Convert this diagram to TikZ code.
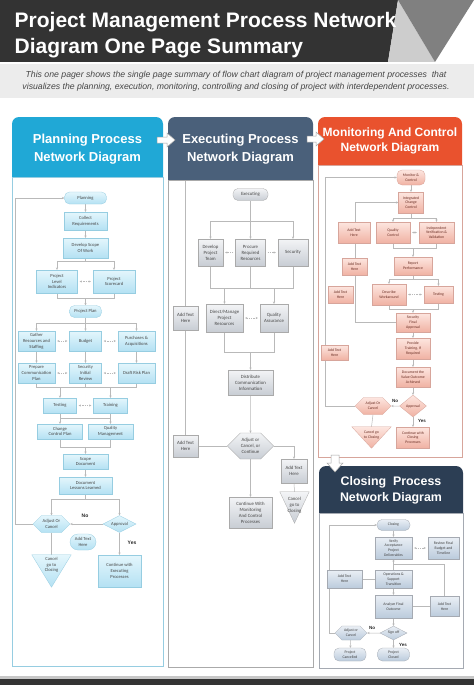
\documentclass[tikz,border=0pt]{standalone}
\usepackage{fontspec}
\setmainfont{Liberation Sans}
\newfontfamily\nodefont{Carlito}
\usetikzlibrary{arrows.meta,shapes.geometric,shapes.symbols,backgrounds}
\definecolor{darkbar}{RGB}{51,51,51}
\definecolor{triA}{RGB}{205,205,205}
\definecolor{triB}{RGB}{128,128,128}
\definecolor{subbg}{RGB}{236,236,236}
\definecolor{subtxt}{RGB}{70,70,70}
\definecolor{phead}{RGB}{32,168,214}
\definecolor{pline}{RGB}{150,205,225}
\definecolor{ptop}{RGB}{228,246,252}
\definecolor{pbot}{RGB}{180,225,243}
\definecolor{ehead}{RGB}{74,96,122}
\definecolor{eline}{RGB}{170,170,170}
\definecolor{etop}{RGB}{243,244,246}
\definecolor{ebot}{RGB}{200,205,212}
\definecolor{mhead}{RGB}{233,82,46}
\definecolor{mline}{RGB}{215,165,155}
\definecolor{mtop}{RGB}{253,230,224}
\definecolor{mbot}{RGB}{240,178,163}
\definecolor{chead}{RGB}{44,62,84}
\definecolor{cline}{RGB}{165,170,178}
\definecolor{ctop}{RGB}{234,239,245}
\definecolor{cbot}{RGB}{187,203,220}
\definecolor{conn}{RGB}{185,185,185}
\definecolor{mtext}{RGB}{105,45,35}
\begin{document}
\begin{tikzpicture}[x=1pt,y=-1pt,
  every node/.style={inner sep=0.5pt, align=center},
  sz/.style 2 args={minimum width=#1, minimum height=#2},
  fa/.style={font=\nodefont\fontsize{4.6}{5.8}\selectfont, text=black!72},
  fb/.style={font=\nodefont\fontsize{4.8}{6}\selectfont, text=black!72},
  fc/.style={font=\nodefont\fontsize{3.8}{4.8}\selectfont, text=mtext},
  fd/.style={font=\nodefont\fontsize{3.8}{4.8}\selectfont, text=black!75},
  pa/.style={fa, rectangle, top color=ptop, bottom color=pbot, draw=pline, line width=0.3pt},
  pb/.style={fb, rectangle, top color=etop, bottom color=ebot, draw=eline, line width=0.3pt},
  pc/.style={fc, rectangle, top color=mtop, bottom color=mbot, draw=mline, line width=0.3pt},
  pd/.style={fd, rectangle, top color=ctop, bottom color=cbot, draw=cline, line width=0.3pt},
  pill/.style={rounded corners=5},
  hex/.style={signal, signal to=west and east},
  dia/.style={diamond, aspect=2, inner sep=0pt},
  tri/.style={rectangle, inner sep=0pt},
  lbl/.style={font=\bfseries\fontsize{5}{5}\selectfont, text=black!85},
  hd/.style={text=white, font=\bfseries\fontsize{13}{18}\selectfont},
  cn/.style={draw=conn, line width=0.5pt, -{Stealth[length=2.4pt,width=2.2pt]}},
  cl/.style={draw=conn, line width=0.5pt},
  dbl/.style={draw=conn, line width=0.5pt, dash pattern=on 1.3pt off 1pt, {Stealth[length=2.2pt,width=2pt]}-{Stealth[length=2.2pt,width=2pt]}, shorten >=2pt, shorten <=2pt},
  dsh/.style={draw=conn, line width=0.5pt, dash pattern=on 1.3pt off 1pt, -{Stealth[length=2.2pt,width=2pt]}, shorten >=2pt, shorten <=2pt}
]
\useasboundingbox (0,0) rectangle (474,685);

% ---------- panels (background layer) ----------
\begin{scope}[on background layer]
  \fill[white] (0,0) rectangle (474,685);
  \fill[phead, rounded corners=7] (12,117) rectangle (163,190);
  \filldraw[fill=white, draw=pline, line width=0.7pt] (12,177) rectangle (163,666);
  \fill[ehead, rounded corners=7] (168,117) rectangle (313,190);
  \filldraw[fill=white, draw=eline, line width=0.7pt] (168,180) rectangle (313,667);
  \fill[mhead, rounded corners=7] (318,117) rectangle (462,175);
  \filldraw[fill=white, draw=mline, line width=0.7pt] (318,165) rectangle (462,457);
  \fill[chead, rounded corners=7] (319,466) rectangle (463,523);
  \filldraw[fill=white, draw=cline, line width=0.7pt] (319,513) rectangle (463,668);
\end{scope}

% ---------- header ----------
\fill[darkbar] (0,0) -- (398,0) -- (388,62) -- (0,62) -- cycle;
\fill[triA] (398,0) -- (388,62) -- (435,62) -- cycle;
\fill[triB] (398,0) -- (474,0) -- (435,62) -- cycle;
\fill[subbg] (0,64) rectangle (474,98);
\node[anchor=north west, align=left, text=white, font=\bfseries\fontsize{21}{26}\selectfont] (title) at (14,11.5)
  {Project Management Process Network\\Diagram One Page Summary};
\node[text=subtxt, font=\itshape\fontsize{8.7}{12}\selectfont] (sub) at (236,81)
  {This one pager shows the single page summary of flow chart diagram of project management processes\ \ that\\visualizes the planning, execution, monitoring, controlling and closing of project with interdependent processes.};

% ---------- bottom bar ----------
\fill[black!22] (0,676) rectangle (474,679);
\fill[darkbar] (0,679) rectangle (474,685);

% block arrows between panels
\filldraw[fill=white, draw=black!35, line width=0.5pt] (157,137) -- (167,137) -- (167,133) -- (175,140) -- (167,147) -- (167,143) -- (157,143) -- cycle;
\filldraw[fill=white, draw=black!35, line width=0.5pt] (307,136) -- (316,136) -- (316,132) -- (324,139) -- (316,146) -- (316,142) -- (307,142) -- cycle;
\filldraw[fill=white, draw=black!35, line width=0.5pt] (331,455) -- (339,455) -- (339,463) -- (343,463) -- (335,472) -- (327,463) -- (331,463) -- cycle;

\node[hd] (h1) at (87.5,149) {Planning Process\\Network Diagram};
\node[hd] (h2) at (240.5,149) {Executing Process\\Network Diagram};
\node[hd, font=\bfseries\fontsize{12}{15}\selectfont] (h3) at (390,140.5) {Monitoring And Control\\Network Diagram};
\node[hd, font=\bfseries\fontsize{12.4}{16}\selectfont] (h4) at (391,490) {Closing\ \ Process\\Network Diagram};

% ---------- panel 1 : planning ----------
\node[pa, pill, sz={42}{12}] (plan) at (85.5,198) {Planning};
\node[pa, sz={43}{18}] (creq) at (85.5,221) {Collect\\Requirements};
\node[pa, sz={45}{20}] (dsw) at (85.5,248) {Develop Scope\\Of Work};
\node[pa, sz={41}{23}] (pli) at (57,281.5) {Project\\Level\\Indicators};
\node[pa, sz={42}{23}] (psc) at (114,281.5) {Project\\Scorecard};
\node[pa, pill, sz={32}{12}] (pp) at (85.5,311.5) {Project Plan};
\node[pa, sz={37}{20}] (gath) at (36.5,341) {Gather\\Resources and\\Staffing};
\node[pa, sz={32}{20}] (bud) at (85.5,341) {Budget};
\node[pa, sz={37}{20}] (purch) at (136.5,341) {Purchases \&\\Acquisitions};
\node[pa, sz={37}{20}] (pcp) at (36.5,373) {Prepare\\Communication\\Plan};
\node[pa, sz={32}{20}] (sir) at (85.5,373) {Security\\Initial\\Review};
\node[pa, sz={37}{20}] (drp) at (136.5,373) {Draft Risk Plan};
\node[pa, sz={33}{15}] (test) at (60,405.5) {Testing};
\node[pa, sz={34}{15}] (train) at (110.5,405.5) {Training};
\node[pa, sz={45}{15}] (ccp) at (60,431.5) {Change\\Control Plan};
\node[pa, sz={45}{15}] (qm) at (110.5,431.5) {Quality\\Management};
\node[pa, sz={45}{15}] (sd) at (85.5,461.5) {Scope\\Document};
\node[pa, sz={53}{17}] (dll) at (85.5,485.5) {Document\\Lessons Learned};
\node[pa, hex, sz={37}{17}] (aoc1) at (51.5,524) {Adjust Or\\Cancel};
\node[pa, dia, sz={33}{17}] (appr1) at (119.5,524) {Approval};
\node[pa, rounded corners=8, sz={26}{16}] (att1) at (83,542) {Add Text\\Here};
\node[pa, sz={43}{32}] (cwe) at (119.5,571) {Continue with\\Executing\\Processes};
\node[fa, tri, sz={39}{32}, text depth=12.9pt] (cgc1) at (51.5,571) {Cancel\\go to\\Closing};
\node[lbl] (no1) at (85,516) {No};
\node[lbl] (yes1) at (132,543) {Yes};

% ---------- panel 2 : executing ----------
\node[pb, pill, sz={35}{12}] (exe) at (250.5,194.5) {Executing};
\node[pb, sz={25}{27}] (dpt) at (210.5,252.5) {Develop\\Project\\Team};
\node[pb, sz={30}{27}] (prr) at (250.5,252.5) {Procure\\Required\\Resources};
\node[pb, sz={30}{27}] (sec) at (293,252.5) {Security};
\node[pb, sz={25}{24}] (att2a) at (185.5,318) {Add Text\\Here};
\node[pb, sz={37}{28}] (dmp) at (224.5,318) {Direct/Manage\\Project\\Resources};
\node[pb, sz={28}{28}] (qa) at (274,318) {Quality\\Assurance};
\node[pb, sz={45}{25}] (dci) at (250.5,382.5) {Distribute\\Communication\\Information};
\node[pb, hex, sz={43}{26}] (acc) at (250.5,446) {Adjust or\\Cancel, or\\Continue};
\node[pb, sz={25}{22}] (att2b) at (185.5,446) {Add Text\\Here};
\node[pb, sz={26}{24}] (att2c) at (294,471) {Add Text\\Here};
\node[fb, tri, sz={29}{31}, text depth=5pt] (cgc2) at (294.5,507.5) {Cancel\\go to\\Closing};
\node[pb, sz={43}{31}] (cwm) at (250.5,512.5) {Continue With\\Monitoring\\And Control\\Processes};

% ---------- panel 3 : monitoring ----------
\node[pc, pill, sz={28}{15}] (mc) at (411,177.5) {Monitor \&\\Control};
\node[pc, sz={25}{21}] (icc) at (411,202.5) {Integrated\\Change\\Control};
\node[pc, sz={32}{21}] (att3a) at (354,232.5) {Add Text\\Here};
\node[pc, sz={34}{21}] (qc) at (393,232.5) {Quality\\Control};
\node[pc, sz={35}{21}] (ivv) at (436.5,232.5) {Independent\\Verification \&\\Validation};
\node[pc, sz={25}{17}] (att3b) at (354.5,266.5) {Add Text\\Here};
\node[pc, sz={38}{18}] (rp) at (413,266) {Report\\Performance};
\node[pc, sz={25}{17}] (att3c) at (340.5,294.5) {Add Text\\Here};
\node[pc, sz={34}{21}] (dw) at (389,294.5) {Describe\\Workaround};
\node[pc, sz={29}{17}] (tst) at (438.5,294.5) {Testing};
\node[pc, sz={34}{19}] (sfa) at (413,322.5) {Security\\Final\\Approval};
\node[pc, sz={27}{15}] (att3d) at (334.5,352.5) {Add Text\\Here};
\node[pc, sz={34}{21}] (ptr) at (413,348.5) {Provide\\Training, If\\Required};
\node[pc, sz={34}{20}] (dvo) at (413,377) {Document the\\Value Outcome\\Achieved};
\node[pc, dia, sz={27}{22}] (appr3) at (413,406) {Approval};
\node[pc, hex, sz={36}{17}] (aoc3) at (373,406) {Adjust Or\\Cancel};
\node[pc, sz={33}{21}] (ccp3) at (413,437.5) {Continue with\\Closing\\Processes};
\node[fc, tri, sz={39}{21}, text depth=5.9pt] (cgc3) at (371.5,437.5) {Cancel go\\to Closing};
\node[lbl, font=\bfseries\fontsize{4.5}{4.5}\selectfont] (no3) at (395,401) {No};
\node[lbl, font=\bfseries\fontsize{4.5}{4.5}\selectfont] (yes3) at (422,421) {Yes};

% ---------- panel 4 : closing ----------
\node[pd, pill, sz={33}{11}] (clo) at (393.5,525) {Closing};
\node[pd, sz={37}{22}] (vap) at (393.5,548) {Verify\\Acceptance\\Project\\Deliverables};
\node[pd, sz={31}{22}] (rfb) at (443.5,548) {Review Final\\Budget and\\Timeline};
\node[pd, sz={35}{18}] (att4a) at (344.5,579) {Add Text\\Here};
\node[pd, sz={37}{18}] (ost) at (393.5,579) {Operations \&\\Support\\Transition};
\node[pd, sz={37}{23}] (afo) at (393.5,606.5) {Analyze Final\\Outcome};
\node[pd, sz={29}{20}] (att4b) at (444.5,606.5) {Add Text\\Here};
\node[pd, dia, sz={27}{14}] (so) at (393.5,633) {Sign off};
\node[pd, hex, sz={32}{14}] (aoc4) at (351,633) {Adjust or\\Cancel};
\node[pd, pill, sz={32}{13}] (pcan) at (350,654.5) {Project\\Cancelled};
\node[pd, pill, sz={32}{13}] (pclo) at (393.5,654.5) {Project\\Closed};
\node[lbl, font=\bfseries\fontsize{4.5}{4.5}\selectfont] (no4) at (372,628) {No};
\node[lbl, font=\bfseries\fontsize{4.5}{4.5}\selectfont] (yes4) at (403,645) {Yes};

% ---------- connectors ----------
\begin{scope}[on background layer]
  % panel 1
  \draw[cn] (plan) -- (creq);
  \draw[cn] (creq) -- (dsw);
  \draw[cn] (dsw.south) -- ++(0,3) -| (pli.north);
  \draw[cn] (dsw.south) -- ++(0,3) -| (psc.north);
  \draw[dbl] (pli) -- (psc);
  \coordinate (m1) at (85.5,298);
  \draw[cl] (pli.south) |- (m1);
  \draw[cl] (psc.south) |- (m1);
  \draw[cn] (m1) -- (pp.north);
  \draw[cn] (pp.south) -- ++(0,5.5) -| (gath.north);
  \draw[cn] (pp.south) -- (bud.north);
  \draw[cn] (pp.south) -- ++(0,5.5) -| (purch.north);
  \draw[dbl] (gath) -- (bud);
  \draw[dbl] (bud) -- (purch);
  \draw[cn] (gath) -- (pcp);
  \draw[cn] (bud) -- (sir);
  \draw[cn] (purch) -- (drp);
  \draw[dbl] (pcp) -- (sir);
  \draw[dbl] (sir) -- (drp);
  \coordinate (m2) at (85.5,387.5);
  \draw[cl] (pcp.south) |- (m2);
  \draw[cl] (drp.south) |- (m2);
  \draw[cl] (sir.south) -- (m2);
  \draw[cn] (m2) -| (test.north);
  \draw[cn] (m2) -| (train.north);
  \draw[dbl] (test) -- (train);
  \draw[cn] (test) -- (ccp);
  \draw[cn] (train) -- (qm);
  \coordinate (m3) at (85.5,418.5);
  \draw[cl] (m3 -| test) -- (m3 -| train);
  \coordinate (m4) at (85.5,447);
  \draw[cl] (ccp.south) |- (m4);
  \draw[cl] (qm.south) |- (m4);
  \draw[cn] (m4) -- (sd.north);
  \draw[cn] (sd) -- (dll);
  \coordinate (m5) at (85.5,499);
  \draw[cl] (dll.south) -- (m5);
  \draw[cn] (m5) -| (aoc1.north);
  \draw[cn] (m5) -| (appr1.north);
  \draw[cn] (appr1.west) -- (aoc1.east);
  \draw[cn] (appr1.south) -- (cwe.north);
  \draw[cl] (aoc1.south) -- (cgc1.north);
  \coordinate (fb1) at (15,524);
  \draw[cn] (aoc1.west) -- (fb1) |- (plan.west);
  % panel 2
  \coordinate (e1) at (250.5,221);
  \draw[cl] (exe.south) -- (e1);
  \draw[cn] (e1) -| (dpt.north);
  \draw[cn] (e1) -- (prr.north);
  \draw[cn] (e1) -| (sec.north);
  \draw[dsh] (prr) -- (dpt);
  \draw[dsh] (prr) -- (sec);
  \coordinate (e2) at (250.5,288);
  \draw[cl] (dpt.south) |- (e2);
  \draw[cl] (sec.south) |- (e2);
  \draw[cl] (prr.south) -- (e2);
  \draw[cn] (e2) -| (dmp.north);
  \draw[cn] (e2) -| (qa.north);
  \draw[dbl] (dmp) -- (qa);
  \coordinate (e3) at (250.5,352);
  \draw[cl] (dmp.south) |- (e3);
  \draw[cl] (qa.south) |- (e3);
  \draw[cn] (e3) -- (dci.north);
  \draw[cn] (dci) -- (acc);
  \draw[cl] (acc.west) -- (att2b.east);
  \draw[cl] (att2b.north) -- (att2a.south);
  \coordinate (e4) at (185.5,181);
  \draw[cl] (att2a.north) -- (e4);
  \draw[cn] (acc.east) -| (att2c.north);
  \draw[cl] (att2c.south) -- (cgc2.north);
  \draw[cn] (acc.south) -- (cwm.north);
  % panel 3
  \draw[cn] (mc) -- (icc);
  \coordinate (k1) at (411,218);
  \draw[cl] (icc.south) -- (k1);
  \draw[cn] (k1) -| (qc.north);
  \draw[cn] (k1) -| (ivv.north);
  \draw[dbl] (qc) -- (ivv);
  \coordinate (k2) at (413,248);
  \draw[cl] (qc.south) |- (k2);
  \draw[cl] (ivv.south) |- (k2);
  \draw[cn] (k2) -- (rp.north);
  \coordinate (k3) at (413,279);
  \draw[cl] (rp.south) -- (k3);
  \draw[cn] (k3) -| (dw.north);
  \draw[cn] (k3) -| (tst.north);
  \draw[dbl] (dw) -- (tst);
  \coordinate (k4) at (413,309);
  \draw[cl] (dw.south) |- (k4);
  \draw[cl] (tst.south) |- (k4);
  \draw[cn] (k4) -- (sfa.north);
  \coordinate (fb3b) at (355,322.5);
  \draw[cn] (sfa.west) -- (fb3b) |- (icc.west);
  \draw[cn] (sfa) -- (ptr);
  \draw[cn] (ptr) -- (dvo);
  \draw[cn] (dvo) -- (appr3);
  \draw[cn] (appr3) -- (aoc3);
  \draw[cn] (appr3) -- (ccp3);
  \draw[cl] (aoc3.south) -- (cgc3.north);
  \coordinate (fb3a) at (325,406);
  \draw[cn] (aoc3.west) -- (fb3a) |- (mc.west);
  % panel 4
  \draw[cn] (clo) -- (vap);
  \draw[dbl] (vap) -- (rfb);
  \coordinate (c4m) at (393.5,564);
  \draw[cn] (att4b.north) |- (c4m) -- (vap.south);
  \draw[cl] (ost.north) -- (c4m);
  \draw[cl] (att4a) -- (ost);
  \draw[cn] (ost) -- (afo);
  \draw[cl] (afo) -- (att4b);
  \draw[cn] (afo) -- (so);
  \draw[cn] (so) -- (aoc4);
  \draw[cn] (so) -- (pclo);
  \draw[cn] (aoc4) -- (pcan);
  \coordinate (fb4) at (329,633);
  \draw[cn] (aoc4.west) -- (fb4) |- (clo.west);
  % triangles
  \shade[top color=ptop, bottom color=pbot, draw=pline, line width=0.3pt] (cgc1.north west) -- (cgc1.north east) -- (cgc1.south) -- cycle;
  \shade[top color=etop, bottom color=ebot, draw=eline, line width=0.3pt] (cgc2.north west) -- (cgc2.north east) -- (cgc2.south) -- cycle;
  \shade[top color=mtop, bottom color=mbot, draw=mline, line width=0.3pt] (cgc3.north west) -- (cgc3.north east) -- (cgc3.south) -- cycle;
\end{scope}
\end{tikzpicture}
\end{document}
